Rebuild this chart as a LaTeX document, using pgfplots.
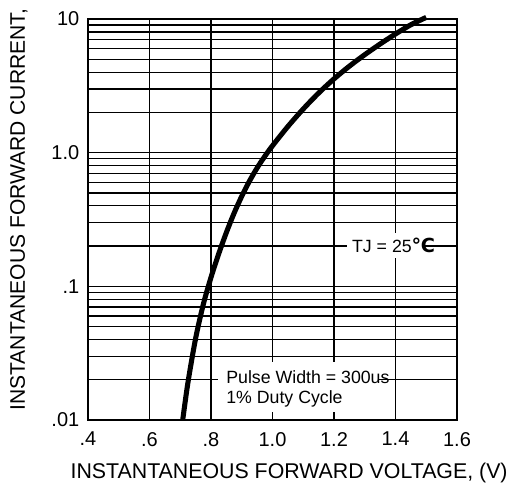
\documentclass[border=0pt]{standalone}
\usepackage{pgfplots}
\pgfplotsset{compat=1.18}
\usepackage{fontspec}
\setmainfont{Liberation Sans}
\newfontfamily\symfont{DejaVu Sans}

\begin{document}
\begin{tikzpicture}
\begin{axis}[
    name=ax,
    scale only axis,
    width=276.75pt, height=300.75pt,
    xmin=0.4, xmax=1.6,
    ymode=log, ymin=0.01, ymax=10,
    xtick={0.4,0.6,0.8,1.0,1.2,1.4,1.6},
    xticklabels={.4,.6,.8,1.0,1.2,1.4,1.6},
    ytick={0.01,0.1,1,10},
    yticklabels={.01,.1,1.0,10},
    grid=both,
    major grid style={black, line width=0.95pt},
    minor grid style={black, line width=0.95pt},
    axis line style={black, line width=0.95pt},
    major tick length=0pt, minor tick length=0pt,
    tick label style={font=\fontsize{15}{18}\selectfont},
    xticklabel style={yshift=-5.5pt},
    yticklabel style={xshift=-3pt},
    /pgf/number format/assume math mode=true,
    clip=false,
  ]
  % forward characteristic, TJ = 25 C
  \addplot[black, line width=3.8pt, smooth, tension=0.5] coordinates {
    (0.708,0.0100)(0.725,0.01905)(0.750,0.0408)(0.775,0.0733)(0.800,0.1167)
    (0.825,0.1750)(0.850,0.2529)(0.875,0.3524)(0.900,0.4721)(0.925,0.6124)
    (0.950,0.7691)(0.975,0.9397)(1.000,1.127)(1.050,1.570)(1.100,2.123)
    (1.150,2.793)(1.200,3.565)(1.250,4.436)(1.300,5.408)(1.350,6.501)
    (1.400,7.727)(1.450,9.057)(1.500,10.28)};

  % annotations on white patches over the grid
  \fill[white] (axis cs:1.243,0.1626) rectangle (axis cs:1.4975,0.250);
  \node[anchor=base west, inner sep=0pt, font=\fontsize{13.3}{16}\selectfont]
    at (axis cs:1.258,0.180) {TJ = 25{\symfont\bfseries\fontsize{14.5}{16}\selectfont ℃}};

  \fill[white] (axis cs:0.823,0.01143) rectangle (axis cs:1.342,0.0271);
  \node[anchor=base west, inner sep=0pt, font=\fontsize{13.3}{16}\selectfont]
    at (axis cs:0.849,0.01884) {Pulse Width = 300us};
  \node[anchor=base west, inner sep=0pt, font=\fontsize{13.3}{16}\selectfont]
    at (axis cs:0.849,0.01336) {1\% Duty Cycle};

  % axis titles
  \node[anchor=base, inner sep=0pt, font=\fontsize{16}{19}\selectfont]
    at (axis cs:1.054,0.00368) {INSTANTANEOUS FORWARD VOLTAGE, (V)};
  \node[rotate=90, anchor=base west, inner sep=0pt, font=\fontsize{15.8}{19}\selectfont]
    at (axis cs:0.1951,0.0117) {INSTANTANEOUS FORWARD CURRENT,};
\end{axis}
\pgfresetboundingbox
\path (ax.south west) ++(-66pt,-47.25pt) rectangle ++(387.75pt,362.25pt);
\end{tikzpicture}
\end{document}
